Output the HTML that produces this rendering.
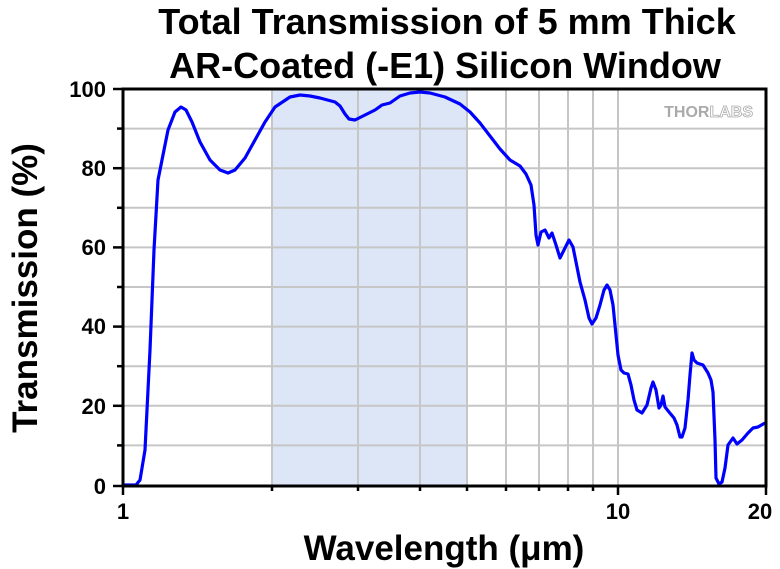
<!DOCTYPE html>
<html><head><meta charset="utf-8"><style>
body{margin:0;background:#fff;}
svg{display:block;font-family:"Liberation Sans",Arial,sans-serif;}
</style></head><body>
<svg width="780" height="569" viewBox="0 0 780 569" xmlns="http://www.w3.org/2000/svg">
<rect width="780" height="569" fill="#fff"/>
<text x="447" y="34" font-size="36" font-weight="bold" text-anchor="middle">Total Transmission of 5 mm Thick</text>
<text x="445" y="78" font-size="36" font-weight="bold" text-anchor="middle">AR-Coated (-E1) Silicon Window</text>
<rect x="272" y="89" width="195" height="397" fill="#dce6f7"/>
<g stroke="#c6c6c6" stroke-width="2">
<line x1="123" y1="128.6" x2="766" y2="128.6"/><line x1="123" y1="168.2" x2="766" y2="168.2"/>
<line x1="123" y1="207.8" x2="766" y2="207.8"/><line x1="123" y1="247.4" x2="766" y2="247.4"/>
<line x1="123" y1="287" x2="766" y2="287"/><line x1="123" y1="326.6" x2="766" y2="326.6"/>
<line x1="123" y1="366.2" x2="766" y2="366.2"/><line x1="123" y1="405.8" x2="766" y2="405.8"/>
<line x1="123" y1="445.4" x2="766" y2="445.4"/>
<line x1="272" y1="89" x2="272" y2="486"/><line x1="358" y1="89" x2="358" y2="486"/>
<line x1="420" y1="89" x2="420" y2="486"/><line x1="467" y1="89" x2="467" y2="486"/>
<line x1="506" y1="89" x2="506" y2="486"/><line x1="539" y1="89" x2="539" y2="486"/>
<line x1="568" y1="89" x2="568" y2="486"/><line x1="593" y1="89" x2="593" y2="486"/>
<line x1="618" y1="89" x2="618" y2="486"/>
</g>
<text x="753" y="117" font-size="16" font-weight="bold" fill="#aaa" text-anchor="end">THOR<tspan fill="#fff" stroke="#aaa" stroke-width="0.8">LABS</tspan></text>
<polyline fill="none" stroke="#0000ff" stroke-width="3.2" stroke-linejoin="round" points="123,485 136,485 140,480 145,450 150,350 154,250 158,180 162,160 168,130 175,112 181,107 186,110 192,122 200,142 210,160 220,170 228,173 235,170 245,158 255,140 265,122 275,107 290,97 300,95 310,96 320,98 335,102 340,106 345,114 349,119 355,120 365,115 375,110 382,105 390,103 400,96 410,93 420,92 430,93 445,97 460,104 470,112 480,123 490,136 500,149 510,160 520,166 526,174 531,185 534,205 536,235 538,245 541,232 545,230 549,238 552,233 556,245 560,258 564,250 569,240 573,247 576,262 580,282 585,300 589,318 592,324 596,318 600,305 604,290 607,285 610,290 613,305 616,335 618,355 621,370 624,373 628,374 631,385 634,400 637,410 642,413 647,405 651,388 653,382 656,390 659,408 661,405 663,396 665,407 669,412 674,418 677,425 680,437 682,437 685,428 688,400 690,375 692,353 694,360 697,363 703,365 708,373 711,380 713,392 715,440 716,478 719,484 722,482 725,468 728,445 733,438 737,444 742,440 748,433 753,428 758,427 765,423"/>
<g stroke="#000" stroke-width="3" fill="none">
<rect x="123" y="89" width="643" height="397"/>
</g>
<g stroke="#000" stroke-width="2.5">
<line x1="113" y1="89" x2="123" y2="89"/><line x1="113" y1="168.2" x2="123" y2="168.2"/>
<line x1="113" y1="247.4" x2="123" y2="247.4"/><line x1="113" y1="326.6" x2="123" y2="326.6"/>
<line x1="113" y1="405.8" x2="123" y2="405.8"/><line x1="113" y1="486" x2="123" y2="486"/>
<line x1="117" y1="128.6" x2="123" y2="128.6"/><line x1="117" y1="207.8" x2="123" y2="207.8"/>
<line x1="117" y1="287" x2="123" y2="287"/><line x1="117" y1="366.2" x2="123" y2="366.2"/>
<line x1="117" y1="445.4" x2="123" y2="445.4"/>
<line x1="123" y1="486" x2="123" y2="495"/><line x1="618" y1="486" x2="618" y2="495"/><line x1="766" y1="486" x2="766" y2="495"/>
<line x1="272" y1="486" x2="272" y2="491"/><line x1="358" y1="486" x2="358" y2="491"/><line x1="420" y1="486" x2="420" y2="491"/>
<line x1="467" y1="486" x2="467" y2="491"/><line x1="506" y1="486" x2="506" y2="491"/><line x1="539" y1="486" x2="539" y2="491"/>
<line x1="568" y1="486" x2="568" y2="491"/><line x1="593" y1="486" x2="593" y2="491"/>
</g>
<g font-size="22" font-weight="bold" text-anchor="end">
<text x="106" y="97">100</text><text x="106" y="176">80</text><text x="106" y="255">60</text>
<text x="106" y="334">40</text><text x="106" y="414">20</text><text x="106" y="494">0</text>
</g>
<g font-size="22" font-weight="bold" text-anchor="middle">
<text x="123" y="519">1</text><text x="618" y="519">10</text><text x="760" y="519">20</text>
</g>
<text x="444" y="560" font-size="35" font-weight="bold" text-anchor="middle">Wavelength (μm)</text>
<text transform="translate(37,288) rotate(-90)" font-size="35" font-weight="bold" text-anchor="middle">Transmission (%)</text>
</svg>
</body></html>
